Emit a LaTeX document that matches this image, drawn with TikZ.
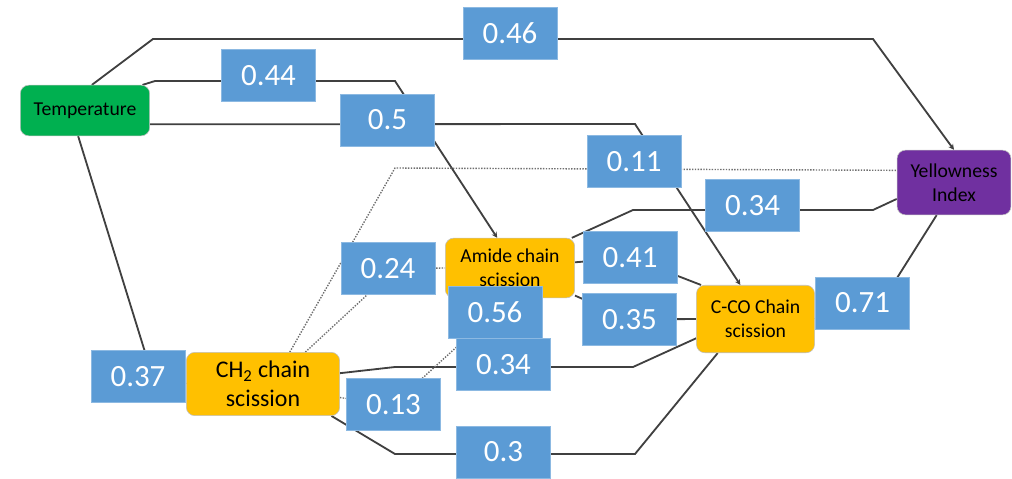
\documentclass[tikz,border=0pt]{standalone}
\usepackage{fontspec}
\setmainfont{Carlito}
\usetikzlibrary{arrows.meta}

\definecolor{tempgreen}{HTML}{00B050}
\definecolor{yipurple}{HTML}{7030A0}
\definecolor{scisorange}{HTML}{FFC000}
\definecolor{coefblue}{HTML}{5B9BD5}
\definecolor{linegray}{HTML}{404040}
\definecolor{dotgray}{HTML}{6F6F6F}

\pgfdeclarelayer{bg}
\pgfsetlayers{bg,main}

\begin{document}
\begin{tikzpicture}[x=0.025cm,y=-0.025cm]
	\tikzstyle{Factor} = [rectangle, rounded corners=6pt, draw=black!25, text=black, align=center, inner sep=0pt, font=\fontsize{14}{17}\selectfont]
	\tikzstyle{Coef} = [rectangle, minimum width=67pt, minimum height=37pt, inner sep=0pt, draw=coefblue!70!white, fill=coefblue, text=white, font=\fontsize{22}{26}\selectfont]
	\tikzstyle{link} = [line width=1.3pt, draw=linegray]
	\tikzstyle{dotlink} = [line width=1pt, densely dotted, draw=dotgray]
	\tikzstyle{arrow} = [->,>={Stealth[length=4pt,width=4pt]}]

	\useasboundingbox (0,0) rectangle (1012,479);

	% factors
	\node (temp) [Factor, fill=tempgreen, minimum width=92pt, minimum height=36pt] at (85,110.5) {Temperature};
	\node (yi) [Factor, fill=yipurple, minimum width=81pt, minimum height=46pt] at (954,182.5) {Yellowness\\Index};
	\node (amide) [Factor, fill=scisorange, minimum width=92pt, minimum height=42.5pt] at (510,268) {Amide chain\\scission};
	\node (cco) [Factor, fill=scisorange, minimum width=84pt, minimum height=48pt] at (755.5,319) {C-CO Chain\\scission};
	\node (ch2) [Factor, fill=scisorange, minimum width=109pt, minimum height=45pt, font=\fontsize{17}{21}\selectfont] at (263,384) {CH\textsubscript{2} chain\\scission};

	% coefficients
	\node (b46) [Coef] at (510,33) {0.46};
	\node (b44) [Coef] at (268.5,75.5) {0.44};
	\node (b50) [Coef] at (387.5,120) {0.5};
	\node (b11) [Coef] at (634,161.5) {0.11};
	\node (b34a) [Coef] at (752.5,205.5) {0.34};
	\node (b24) [Coef] at (388,268.5) {0.24};
	\node (b41) [Coef] at (630,257.5) {0.41};
	\node (b56) [Coef] at (495,312) {0.56};
	\node (b35) [Coef] at (629.5,319.5) {0.35};
	\node (b71) [Coef] at (862.5,303) {0.71};
	\node (b37) [Coef] at (138,376.5) {0.37};
	\node (b34b) [Coef] at (503.5,364.5) {0.34};
	\node (b13) [Coef] at (393.5,404.5) {0.13};
	\node (b30) [Coef] at (503.5,452) {0.3};

	\begin{pgfonlayer}{bg}
	\draw [link, arrow] (temp.75) -- (153,39) -- (873,39) -- (yi.north);
	\draw [link, arrow] (temp.24) -- (155,81) -- (395,81) -- (amide.113);
	\draw [link, arrow] (temp.-12) -- (635,124) -- (cco.114);
	\draw [link] (temp.-105) -- (145,352) -- (ch2.west);
	\draw [link] (yi.196) -- (873,210) -- (633,210) -- (amide.26);
	\draw [link] (yi.242) -- (897,278) -- (cco.east);
	\draw [link] (amide.5) -- (b41.center) -- (cco.148);
	\draw [link] (amide.-23) -- (b35.center) -- (cco.west);
	\draw [link] (ch2.8) -- (395,367) -- (633,367) -- (cco.198);
	\draw [link] (ch2.-25) -- (395,454) -- (635,454) -- (cco.222);
	\draw [dotlink] (ch2.50) -- (395,168) -- (yi.168);
	\draw [dotlink] (ch2.37) -- (367,295) -- (b24.center) -- (amide.west);
	\draw [dotlink] (ch2.-10) -- (b13.center) -- (b56.center) -- (amide.south);
	\end{pgfonlayer}
\end{tikzpicture}
\end{document}
